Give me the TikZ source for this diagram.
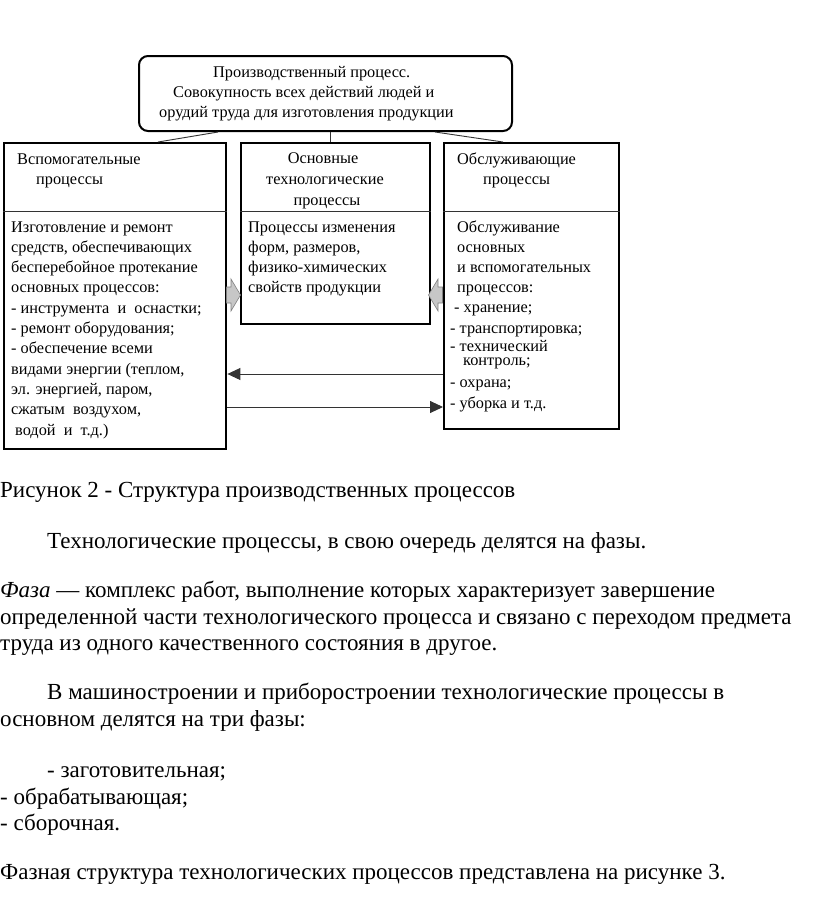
\documentclass[tikz,border=0pt]{standalone}
\usepackage{fontspec}
\setmainfont{Liberation Serif}
\usetikzlibrary{arrows.meta}
\begin{document}
\begin{tikzpicture}[x=1pt,y=-1pt,
  box/.style={draw=black,line width=2.4pt,rectangle,inner sep=0pt,anchor=north west},
  thin/.style={draw=black!80,line width=0.9pt},
  ln/.style={anchor=base west,inner sep=0pt,font=\fontsize{16.3}{18}\selectfont},
  body/.style={anchor=base west,inner sep=0pt,font=\fontsize{23}{26}\selectfont},
  hv/.style={draw=black!80,line width=0.9pt,-{Triangle[length=13pt,width=12pt]}},
  blk/.style={fill=black!22,draw=black!50,line width=0.6pt}]
\useasboundingbox (0,0) rectangle (816,910);
\fill[white] (0,0) rectangle (816,910);
% boxes
\node[box,rounded corners=9pt,line width=2pt,minimum width=373pt,minimum height=75pt] (top) at (138,55) {};
\node[box,minimum width=222pt,minimum height=306pt] (left) at (3,142) {};
\node[box,minimum width=189pt,minimum height=181pt] (mid) at (240,142) {};
\node[box,minimum width=175pt,minimum height=286pt] (right) at (443,142) {};
% dividers
\coordinate (dv) at (0,211.5);
\draw[thin] (left.west |- dv) -- (left.east |- dv);
\draw[thin] (mid.west |- dv) -- (mid.east |- dv);
\draw[thin] (right.west |- dv) -- (right.east |- dv);
% connectors from top box
\draw[thin] ([xshift=80pt]top.south west) -- ([xshift=155pt]left.north west);
\draw[thin] ([xshift=-5pt]mid.north |- top.south) -- ([xshift=-5pt]mid.north);
\draw[thin] ([xshift=-78pt]top.south east) -- ([xshift=60pt]right.north west);
% horizontal arrows
\coordinate (ya) at (0,374);
\coordinate (yb) at (0,407);
\draw[hv] (right.west |- ya) -- (left.east |- ya);
\draw[hv] (left.east |- yb) -- (right.west |- yb);
% grey block arrows
\draw[blk] (226.5,287) -- (231,287) -- (231,279) -- (240.5,295) -- (231,311) -- (231,303) -- (226.5,303) -- cycle;
\draw[blk] (442.5,287) -- (438,287) -- (438,279) -- (428.5,295) -- (438,311) -- (438,303) -- (442.5,303) -- cycle;
% top text
\node[ln] (t1) at (213,77) {Производственный процесс.};
\node[ln] (t2) at (173,97) {Совокупность всех действий людей и};
\node[ln] (t3) at (159,117) {орудий труда для изготовления продукции};
% left
\node[ln] (lh1) at (17,164) {Вспомогательные};
\node[ln] (lh2) at (36,184) {процессы};
\node[ln] (lb1) at (11,232) {Изготовление и ремонт};
\node[ln] (lb2) at (11,252.3) {средств, обеспечивающих};
\node[ln] (lb3) at (11,272.6) {бесперебойное протекание};
\node[ln] (lb4) at (11,292.9) {основных процессов:};
\node[ln] (lb5) at (11,313.2) {- инструмента\ \ и\ \ оснастки;};
\node[ln] (lb6) at (11,333.5) {- ремонт оборудования;};
\node[ln] (lb7) at (11,353.8) {- обеспечение всеми};
\node[ln] (lb8) at (11,374.1) {видами энергии (теплом,};
\node[ln] (lb9) at (11,394.4) {эл. энергией, паром,};
\node[ln] (lb10) at (11,414.7) {сжатым\ \ воздухом,};
\node[ln] (lb11) at (15,435) {водой\ \ и\ \ т.д.)};
% middle
\node[ln,anchor=base] (mh1) at (323,163) {Основные};
\node[ln,anchor=base] (mh2) at (325,184) {технологические};
\node[ln,anchor=base] (mh3) at (327,205) {процессы};
\node[ln] (mb1) at (248,232) {Процессы изменения};
\node[ln] (mb2) at (248,252) {форм, размеров,};
\node[ln] (mb3) at (248,272) {физико-химических};
\node[ln] (mb4) at (248,292) {свойств продукции};
% right
\node[ln] (rh1) at (457,164) {Обслуживающие};
\node[ln] (rh2) at (483,184) {процессы};
\node[ln] (rb1) at (457,232) {Обслуживание};
\node[ln] (rb2) at (457,252) {основных};
\node[ln] (rb3) at (457,272) {и вспомогательных};
\node[ln] (rb4) at (457,292) {процессов:};
\node[ln] (rb5) at (454,312) {- хранение;};
\node[ln] (rb6) at (450,333) {- транспортировка;};
\node[ln,align=left,font=\fontsize{16.3}{14}\selectfont] (rb7) at (450,365.5) {- технический\\\hspace*{13pt}контроль;};
\node[ln] (rb9) at (450,387) {- охрана;};
\node[ln] (rb10) at (450,408) {- уборка и т.д.};
% body text
\node[body] (p1) at (0,497) {Рисунок 2 - Структура производственных процессов};
\node[body] (p2) at (47,548) {Технологические процессы, в свою очередь делятся на фазы.};
\node[body] (p3) at (0,597) {\textit{Фаза} — комплекс работ, выполнение которых характеризует завершение};
\node[body] (p4) at (0,624) {определенной части технологического процесса и связано с переходом предмета};
\node[body] (p5) at (0,650) {труда из одного качественного состояния в другое.};
\node[body] (p6) at (47,699) {В машиностроении и приборостроении технологические процессы в};
\node[body] (p7) at (0,726) {основном делятся на три фазы:};
\node[body] (p8) at (47,777) {- заготовительная;};
\node[body] (p9) at (0,804) {- обрабатывающая;};
\node[body] (p10) at (0,830) {- сборочная.};
\node[body] (p11) at (0,879) {Фазная структура технологических процессов представлена на рисунке 3.};
\end{tikzpicture}
\end{document}
